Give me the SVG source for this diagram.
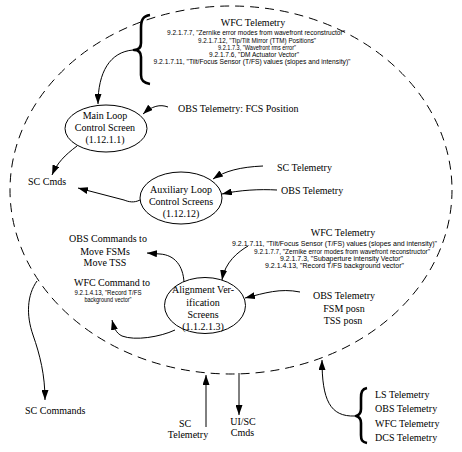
<svg xmlns="http://www.w3.org/2000/svg" width="462" height="452" viewBox="0 0 462 452">
<style>
.t{font-family:"Liberation Serif","Times New Roman",serif;font-size:10px;fill:#000}
.s{font-family:"Liberation Sans",Arial,sans-serif;font-size:6.3px;fill:#000}
.m{text-anchor:middle}
.c{fill:none;stroke:#000;stroke-width:1}
.b{fill:none;stroke:#000;stroke-width:2.6;stroke-linejoin:round}
.n{fill:#fff;stroke:#000;stroke-width:1}
</style>
<defs>
<marker id="ah" viewBox="0 0 10 7" refX="10" refY="3.5" markerWidth="10" markerHeight="7" orient="auto" markerUnits="userSpaceOnUse">
<path d="M0,0 L10,3.5 L0,7 z" fill="#000"/>
</marker>
</defs>
<rect width="462" height="452" fill="#fff"/>
<g id="boundary">
<ellipse cx="231" cy="190" rx="221" ry="184" fill="none" stroke="#000" stroke-width="1" stroke-dasharray="9 6"/>
</g>
<g id="connectors">
<path class="c" d="M133 50 C110 52 98 72 98 104" marker-end="url(#ah)"/>
<path class="c" d="M168 107 C160 104 152 106 143 114" marker-end="url(#ah)"/>
<path class="c" d="M77 146 C65 155 57 163 52 175" marker-end="url(#ah)"/>
<path class="c" d="M140 200 C134 203 129 202 124 200 L78 188" marker-end="url(#ah)"/>
<path class="c" d="M263 166 C240 167 225 171 213 179" marker-end="url(#ah)"/>
<path class="c" d="M277 190 C260 189 240 190 222 194" marker-end="url(#ah)"/>
<path class="c" d="M248 246 C238 252 225 262 222 280" marker-end="url(#ah)"/>
<path class="c" d="M300 292 C280 288 265 293 245 298" marker-end="url(#ah)"/>
<path class="c" d="M184 282 C183 266 175 255 160 254 L147 253" marker-end="url(#ah)"/>
<path class="c" d="M175 330 C160 337 135 341 122 336 C116 333 114 328 112 320" marker-end="url(#ah)"/>
<path class="c" d="M37 281 C27 295 26 315 33 335 C40 355 45 375 45 400" marker-end="url(#ah)"/>
<path class="c" d="M206 427 L206 375" marker-end="url(#ah)"/>
<path class="c" d="M239 373 L239 415" marker-end="url(#ah)"/>
<path class="c" d="M355 416 C330 417 322 400 322 360" marker-end="url(#ah)"/>
</g>
<g id="wfc-telemetry-top">
<path class="b" d="M150 15 C143 16 141 20 141 28 L141 43 C141 47 139 50 134 50 C139 50 141 53 141 57 L141 75 C141 80 143 83 150 84"/>
<text class="t m" x="253" y="26">WFC Telemetry</text>
<text class="s m" x="256" y="35" textLength="178" lengthAdjust="spacingAndGlyphs">9.2.1.7.7, "Zernike error modes from wavefront reconstructor"</text>
<text class="s m" x="257" y="42.5" textLength="118" lengthAdjust="spacingAndGlyphs">9.2.1.7.12, "Tip/Tilt Mirror (TTM) Positions"</text>
<text class="s m" x="257" y="49.5" textLength="78" lengthAdjust="spacingAndGlyphs">9.2.1.7.3, "Wavefront rms error"</text>
<text class="s m" x="254" y="56.5" textLength="90" lengthAdjust="spacingAndGlyphs">9.2.1.7.6, "DM Actuator Vector"</text>
<text class="s m" x="252" y="64" textLength="197" lengthAdjust="spacingAndGlyphs">9.2.1.7.11, "Tilt/Focus Sensor (T/FS) values (slopes and intensity)"</text>
</g>
<g id="main-loop">
<ellipse class="n" cx="106" cy="128.5" rx="41" ry="23.5"/>
<text class="t m" x="105" y="119">Main Loop</text>
<text class="t m" x="105" y="131">Control Screen</text>
<text class="t m" x="105" y="143">(1.12.1.1)</text>
</g>
<g id="obs-fcs">
<text class="t" x="178" y="112">OBS Telemetry: FCS Position</text>
</g>
<g id="sc-cmds">
<text class="t" x="28" y="185">SC Cmds</text>
</g>
<g id="aux-loop">
<ellipse class="n" cx="181" cy="198" rx="41" ry="26"/>
<text class="t m" x="181" y="193">Auxiliary Loop</text>
<text class="t m" x="181" y="205">Control Screens</text>
<text class="t m" x="181" y="217">(1.12.12)</text>
</g>
<g id="sc-telemetry">
<text class="t" x="277" y="170.5">SC Telemetry</text>
</g>
<g id="obs-telemetry">
<text class="t" x="281" y="193.5">OBS Telemetry</text>
</g>
<g id="wfc-telemetry-align">
<text class="t m" x="343" y="235.5">WFC Telemetry</text>
<text class="s" x="232" y="246" textLength="205" lengthAdjust="spacingAndGlyphs">9.2.1.7.11, "Tilt/Focus Sensor (T/FS) values (slopes and intensity)"</text>
<text class="s" x="254" y="253.5" textLength="176" lengthAdjust="spacingAndGlyphs">9.2.1.7.7, "Zernike error modes from wavefront reconstructor"</text>
<text class="s" x="280" y="261" textLength="123" lengthAdjust="spacingAndGlyphs">9.2.1.7.3, "Subaperture intensity Vector"</text>
<text class="s" x="265" y="268" textLength="139" lengthAdjust="spacingAndGlyphs">9.2.1.4.13, "Record T/FS background vector"</text>
</g>
<g id="obs-commands">
<text class="t m" x="108" y="241.5">OBS Commands to</text>
<text class="t m" x="105" y="254.5">Move FSMs</text>
<text class="t m" x="105" y="265.5">Move  TSS</text>
</g>
<g id="wfc-command">
<text class="t m" x="112" y="285.5">WFC Command to</text>
<text class="s m" x="108" y="294.5" textLength="67" lengthAdjust="spacingAndGlyphs">9.2.1.4.13, "Record T/FS</text>
<text class="s m" x="108" y="301.5" textLength="47" lengthAdjust="spacingAndGlyphs">background vector"</text>
</g>
<g id="alignment">
<ellipse class="n" cx="205" cy="305.5" rx="40.5" ry="28"/>
<text class="t m" x="203" y="293">Alignment Ver-</text>
<text class="t m" x="203" y="305.5">ification</text>
<text class="t m" x="203" y="317.5">Screens</text>
<text class="t m" x="203" y="329.5">(1.1.2.1.3)</text>
</g>
<g id="obs-fsm-tss">
<text class="t m" x="344" y="298.5">OBS Telemetry</text>
<text class="t m" x="344" y="311.5">FSM posn</text>
<text class="t m" x="343" y="323.5">TSS posn</text>
</g>
<g id="sc-commands">
<text class="t" x="25" y="413.5">SC Commands</text>
</g>
<g id="sc-telemetry-bottom">
<text class="t m" x="185" y="426.5">SC</text>
<text class="t m" x="188" y="437.5">Telemetry</text>
</g>
<g id="ui-sc-cmds">
<text class="t m" x="243" y="424.5">UI/SC</text>
<text class="t m" x="242.5" y="435.5">Cmds</text>
</g>
<g id="telemetry-group">
<path class="b" d="M367 388 C362 389 361 392 361 398 L361 409 C361 413 360 415 356 416 C360 417 361 419 361 423 L361 435 C361 440 362 442 367 443"/>
<text class="t" x="375" y="398">LS Telemetry</text>
<text class="t" x="375" y="412">OBS Telemetry</text>
<text class="t" x="375" y="427">WFC Telemetry</text>
<text class="t" x="375" y="441">DCS Telemetry</text>
</g>
</svg>
